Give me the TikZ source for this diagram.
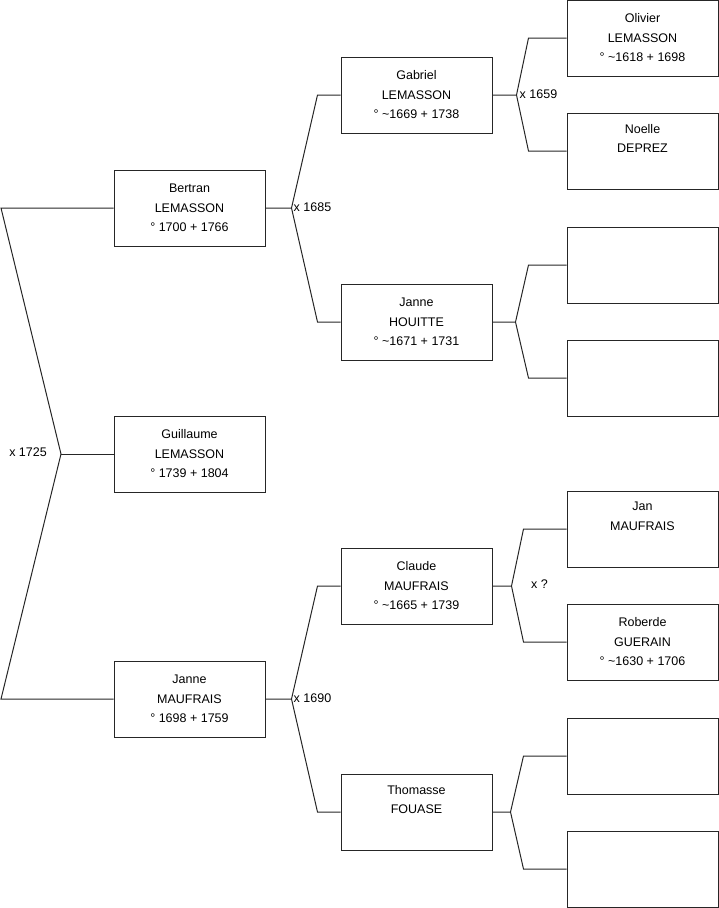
\documentclass[tikz,border=0pt]{standalone}
\usepackage{fontspec}
\setmainfont{Liberation Sans}
\usetikzlibrary{positioning}

\begin{document}
\begin{tikzpicture}[x=1pt, y=-1pt,
    person/.style={draw=black!85, line width=1pt, minimum width=151pt, minimum height=76pt,
      inner sep=0pt, align=center, font=\fontsize{12.5}{19.5}\selectfont},
    link/.style={draw=black!85, line width=1pt},
    wed/.style={font=\fontsize{12.5}{15}\selectfont, inner sep=1pt}]
  \useasboundingbox (0,0) rectangle (719,908);

  \node[person] (bertran)   at (189.5,208) {Bertran\\LEMASSON\\° 1700 + 1766};
  \node[person] (guillaume) at (189.5,454) {Guillaume\\LEMASSON\\° 1739 + 1804};
  \node[person] (jannem)    at (189.5,699) {Janne\\MAUFRAIS\\° 1698 + 1759};

  \node[person] (gabriel)  at (416.5,95)  {Gabriel\\LEMASSON\\° \textasciitilde1669 + 1738};
  \node[person] (janneh)   at (416.5,322) {Janne\\HOUITTE\\° \textasciitilde1671 + 1731};
  \node[person] (claude)   at (416.5,586) {Claude\\MAUFRAIS\\° \textasciitilde1665 + 1739};
  \node[person] (thomasse) at (416.5,812) {Thomasse\\FOUASE\\\strut};

  \node[person] (olivier) at (642.5,38)  {Olivier\\LEMASSON\\° \textasciitilde1618 + 1698};
  \node[person] (noelle)  at (642.5,151) {Noelle\\DEPREZ\\\strut};
  \node[person] (e1)      at (642.5,265) {};
  \node[person] (e2)      at (642.5,378) {};
  \node[person] (jan)     at (642.5,529) {Jan\\MAUFRAIS\\\strut};
  \node[person] (roberde) at (642.5,642) {Roberde\\GUERAIN\\° \textasciitilde1630 + 1706};
  \node[person] (e3)      at (642.5,756) {};
  \node[person] (e4)      at (642.5,869) {};

  \coordinate (top0) at (1,208);
  \coordinate (apex0) at (61,454);
  \coordinate (bot0) at (1,699);
  \draw[link] (bertran.west) -- (top0) -- (apex0) -- (bot0) -- (jannem.west);
  \draw[link] (apex0) -- (guillaume.west);
  \node[wed, anchor=east] (w1725) at (48,452) {x 1725};

  \foreach \src/\up/\dn/\h/\dx in {bertran/gabriel/janneh/26/23, jannem/claude/thomasse/26/23,
      gabriel/olivier/noelle/24/38, janneh/e1/e2/23/38,
      claude/jan/roberde/19/43, thomasse/e3/e4/18/43}
    \draw[link] (\src.east) -- ++(\h,0) coordinate (apex-\src)
      (\up.west) -- ([xshift=-\dx pt]\up.west) -- (apex-\src)
      -- ([xshift=-\dx pt]\dn.west) -- (\dn.west);

  \node[wed, anchor=west] (w1685) at ([xshift=1pt,yshift=1pt]apex-bertran) {x 1685};
  \node[wed, anchor=west] (w1690) at ([xshift=1pt,yshift=1pt]apex-jannem) {x 1690};
  \node[wed, anchor=west] (w1659) at ([xshift=2pt,yshift=1pt]apex-gabriel) {x 1659};
  \node[wed] (wq) at (539.5,584) {x ?};
\end{tikzpicture}
\end{document}
